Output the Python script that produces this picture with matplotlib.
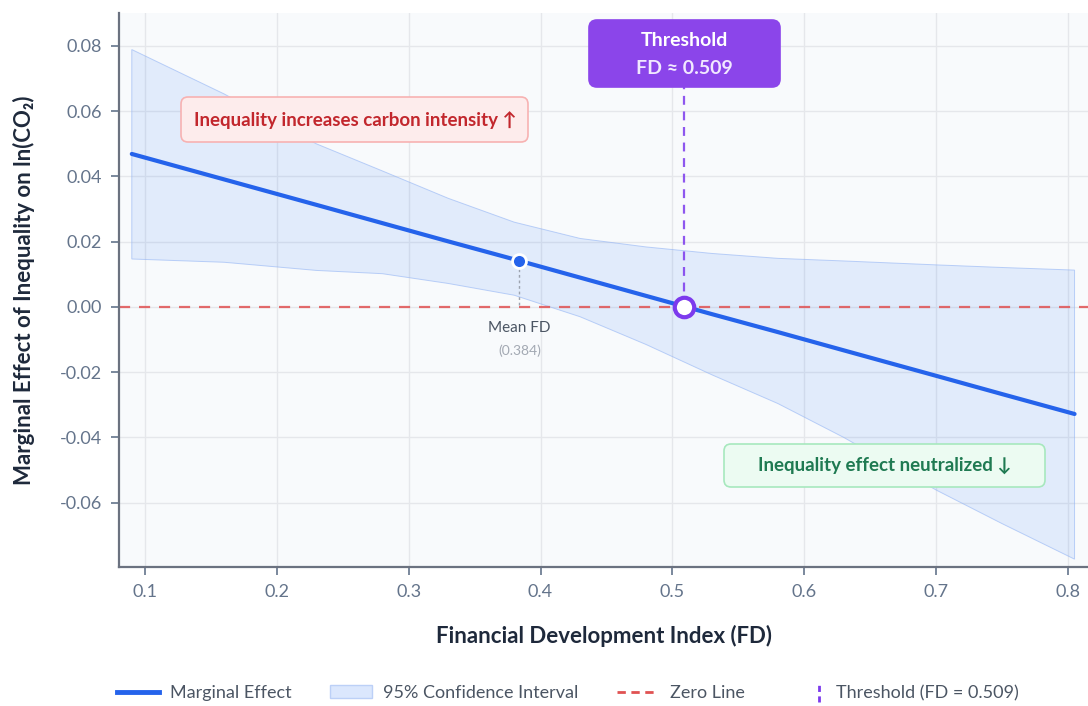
import numpy as np
import matplotlib.pyplot as plt
from matplotlib.lines import Line2D
from matplotlib.patches import Patch, FancyBboxPatch
from matplotlib.legend_handler import HandlerBase

plt.rcParams["font.family"] = ["Lato", "DejaVu Sans"]

# marginal effect of inequality across financial development, with 95% CI
fd = [0.09, 0.16, 0.23, 0.28, 0.33, 0.38, 0.43, 0.48, 0.53, 0.58, 0.63, 0.70, 0.75, 0.805]
me = [0.0469, 0.0391, 0.0313, 0.0257, 0.0201, 0.0146, 0.0090, 0.0034, -0.0022, -0.0077,
      -0.0133, -0.0211, -0.0267, -0.0328]
ci_upper = [0.0789, 0.0653, 0.0500, 0.0417, 0.0333, 0.0260, 0.0210, 0.0184, 0.0164, 0.0149,
            0.0141, 0.0129, 0.0121, 0.0113]
ci_lower = [0.0147, 0.0137, 0.0112, 0.0102, 0.0072, 0.0036, -0.0030, -0.0115, -0.0208, -0.0296,
            -0.0400, -0.0561, -0.0664, -0.0773]

threshold = 0.509
mean_fd = 0.384
mean_me = 0.0141

xticks = [0.1, 0.2, 0.3, 0.4, 0.5, 0.6, 0.7, 0.8]
yticks = [-0.06, -0.04, -0.02, 0.0, 0.02, 0.04, 0.06, 0.08]

BLUE = "#2563eb"
PURPLE = "#7c3aed"
RED = "#e05252"
TICK = "#64748b"
W, H = 1088, 706

fig = plt.figure(figsize=(W / 100, H / 100), dpi=100)
ax = fig.add_axes([119 / W, 139 / H, 969 / W, 554 / H])
ax.set_facecolor("#f8fafc")


def px_box(x0, y0, x1, y1, fc, ec, r=7):
    # rounded box placed in figure pixels, measured from the top-left corner
    box = FancyBboxPatch((x0 / W, 1 - y1 / H), (x1 - x0) / W, (y1 - y0) / H,
                         boxstyle=f"round,pad=0,rounding_size={r / W}", mutation_aspect=W / H,
                         transform=fig.transFigure, fc=fc, ec=ec, lw=1.2, zorder=5)
    fig.add_artist(box)


def px_text(x, y, s, **kw):
    fig.text(x / W, 1 - y / H, s, ha="center", va="center", zorder=6, **kw)


# confidence band with a faint outline all round
band_x = fd + fd[::-1]
band_y = ci_upper + ci_lower[::-1]
ax.fill(band_x, band_y, fc="#3b82f6", alpha=0.12, lw=0, zorder=1)
ax.fill(band_x, band_y, fc="none", ec="#93b4f5", lw=0.7, alpha=0.6, zorder=1)

ax.axhline(0, color=RED, lw=1.6, ls=(0, (5, 4)), alpha=0.85, zorder=2)
ax.plot(fd, me, color=BLUE, lw=3, solid_capstyle="round", zorder=3)

# threshold marker and connector to the label box
ax.plot([threshold, threshold], [0, 0.0674], color=PURPLE, lw=1.6, ls=(0, (4, 3)), alpha=0.85, zorder=2)
ax.plot(threshold, 0, "o", ms=14, mfc="white", mec=PURPLE, mew=3, zorder=5)
px_box(589, 20, 780, 87, "#8b45ea", "#8b45ea", r=8)
px_text(684.5, 41, "Threshold", color="white", fontsize=14, fontweight="bold")
px_text(684.5, 68, "FD ≈ 0.509", color="#f1e8ff", fontsize=14, fontweight="bold")

# mean FD marker
ax.plot([mean_fd, mean_fd], [0.0005, mean_me], color="#9ca3af", lw=1, ls=(0, (2, 2)), zorder=2)
ax.plot(mean_fd, mean_me, "o", ms=10, mfc=BLUE, mec="white", mew=2, zorder=5)
ax.text(mean_fd, -0.0066, "Mean FD", ha="center", va="center", color="#4b5563", fontsize=11)
ax.text(mean_fd, -0.0134, "(0.384)", ha="center", va="center", color="#a3a9b3", fontsize=10)

px_box(181, 97, 528, 142, "#fdecec", "#f7b2b2")
px_text(355, 120, "Inequality increases carbon intensity ↑", color="#c2272d",
        fontsize=13.5, fontweight="bold")
px_box(724, 444, 1045, 487, "#ecfbf2", "#a7e8be")
px_text(884.5, 465.5, "Inequality effect neutralized ↓", color="#1f7a52",
        fontsize=13.5, fontweight="bold")

ax.set_xlim(0.0803, 0.8152)
ax.set_ylim(-0.0797, 0.0901)
ax.set_xticks(xticks)
ax.set_yticks(yticks)
ax.set_xticklabels([f"{v:.1f}" for v in xticks])
ax.set_yticklabels([f"{v:.2f}" for v in yticks])
ax.grid(True, color="#e5e7eb", lw=1)
ax.set_axisbelow(True)
for side in ["top", "right"]:
    ax.spines[side].set_visible(False)
for side in ["left", "bottom"]:
    ax.spines[side].set_color("#6b7280")
    ax.spines[side].set_linewidth(1.6)
ax.tick_params(colors=TICK, labelsize=13, length=6, width=1.2, pad=6)

ax.set_xlabel("Financial Development Index (FD)", fontsize=16, fontweight="bold", color="#1e293b")
ax.set_ylabel("Marginal Effect of Inequality on ln(CO₂)", fontsize=16, fontweight="bold", color="#1e293b")
ax.xaxis.set_label_coords(0.5, -0.1245)
ax.xaxis.label.set_va("center")
ax.yaxis.set_label_coords(-0.098, 0.5)
ax.yaxis.label.set_va("center")


class VDashHandler(HandlerBase):
    # short vertical dashed stroke, sitting next to the label text
    def create_artists(self, legend, orig_handle, xdescent, ydescent, width, height, fontsize, trans):
        x = width - 4 - xdescent
        line = Line2D([x, x], [-ydescent - 0.35 * height, 1.35 * height - ydescent],
                      color=PURPLE, lw=2, ls=(0, (2.2, 1.6)), transform=trans)
        return [line]


thr_handle = Line2D([], [], color=PURPLE)
handles = [
    Line2D([], [], color=BLUE, lw=3.5),
    Patch(facecolor="#dbe7fd", edgecolor="#bcd0f7"),
    Line2D([], [], color=RED, lw=2, ls=(0, (3, 2))),
    thr_handle,
]
labels = ["Marginal Effect", "95% Confidence Interval", "Zero Line", "Threshold (FD = 0.509)"]
leg = fig.legend(handles, labels, loc="center", bbox_to_anchor=(0.522, 0.0184), ncol=4,
                 frameon=False, fontsize=13, handlelength=2.3, handletextpad=0.65,
                 columnspacing=2.1, handler_map={thr_handle: VDashHandler()})
for t in leg.get_texts():
    t.set_color("#4b5563")

fig.savefig("out.png", dpi=100)
